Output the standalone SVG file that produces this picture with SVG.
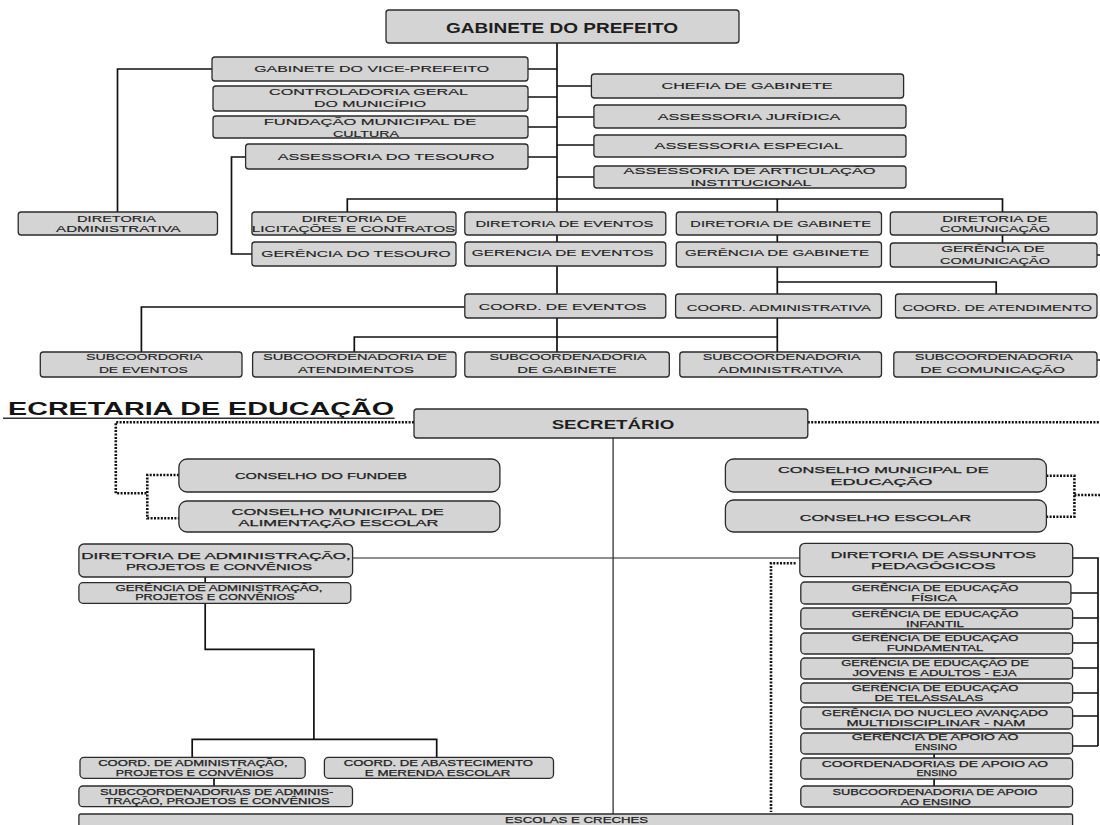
<svg xmlns="http://www.w3.org/2000/svg" width="1100" height="825" viewBox="0 0 1100 825">
<style>
.b{fill:#d4d4d4;stroke:#2b2b2b;stroke-width:1.3}
.t{font-family:"Liberation Sans",Arial,sans-serif;font-size:9.5px;fill:#1e1e1e;text-anchor:middle;stroke:#1e1e1e;stroke-width:0.15}
.s{font-family:"Liberation Sans",Arial,sans-serif;font-size:8.5px;fill:#1e1e1e;text-anchor:middle;stroke:#1e1e1e;stroke-width:0.25}
.h{font-family:"Liberation Sans",Arial,sans-serif;font-weight:bold;fill:#1e1e1e;text-anchor:middle}
.c{fill:none;stroke:#111;stroke-width:1.7}
.c2{fill:none;stroke:#222;stroke-width:1.2}
.d{fill:none;stroke:#111;stroke-width:2.6;stroke-dasharray:2 1.4}
</style>
<rect width="1100" height="825" fill="#fff"/>
<g id="connectors">
<path class="c" d="M557 43V318"/>
<path class="c" d="M528 69H557M528 97H557M528 127H557M528 157H557M557 86H591.4M557 117H593.9M557 145H593.9M557 177H593.9"/>
<path class="c" d="M212 69H117.5V212"/>
<path class="c" d="M245.6 157H231.5V254H252"/>
<path class="c" d="M347.3 212V199H1002.5V212M777.3 199V212M777.3 235V242M1002.5 235V243"/>
<path class="c" d="M557 318V352"/>
<path class="c" d="M464.8 307H141.4V352"/>
<path class="c" d="M354.3 352V337H777.3"/>
<path class="c" d="M777.3 267V294M777.3 282H996.2V294M777.3 318V352"/>
<path class="c" d="M1097 255H1100M1097 360H1100"/>
<path class="d" d="M414 422.3H115.8V493.3H147.3M178.9 475H147.3V518.3H178.9"/>
<path class="d" d="M807.8 422.3H1100M1046.4 475.7H1074.4V516.7H1046.4M1074.4 495H1100"/>
<path class="c2" d="M613.1 438V814"/>
<path class="c2" d="M352.6 558H799.8"/>
<path class="c" d="M1072.7 558H1098V746M1070.9 593H1098M1072.6 618H1098M1072.6 643H1098M1072.6 668H1098M1072.6 693H1098M1072.6 716H1098M1072.6 746H1098"/>
<path class="c" d="M934.1 754V758M934.1 779V786"/>
<path class="d" d="M795.6 563.3H771V812"/>
<path class="c" d="M205.2 577V583M205.2 603.3V649.3H313.9V739.3M192.2 757.3V739.3H436.7V757.3M214 778.3V786"/>
</g>
<g id="gabinete-prefeito"><rect class="b" x="386" y="10" width="353" height="33" rx="3"/><text class="h" x="562" y="33" font-size="14" textLength="232" lengthAdjust="spacingAndGlyphs">GABINETE DO PREFEITO</text></g>
<g id="vice-prefeito"><rect class="b" x="212" y="57" width="316" height="24" rx="3"/><text class="t" x="371.7" y="72.3" textLength="235" lengthAdjust="spacingAndGlyphs">GABINETE DO VICE-PREFEITO</text></g>
<g id="controladoria"><rect class="b" x="213" y="86" width="315" height="25" rx="3"/><text class="t" x="368.5" y="95.3" textLength="199" lengthAdjust="spacingAndGlyphs">CONTROLADORIA GERAL</text><text class="t" x="370" y="107.3" textLength="112" lengthAdjust="spacingAndGlyphs">DO MUNICÍPIO</text></g>
<g id="fundacao-cultura"><rect class="b" x="213" y="116" width="315" height="22" rx="3"/><text class="t" x="370" y="125.3" textLength="212.6" lengthAdjust="spacingAndGlyphs">FUNDAÇÃO MUNICIPAL DE</text><text class="t" x="366" y="137.3" textLength="66" lengthAdjust="spacingAndGlyphs">CULTURA</text></g>
<g id="assessoria-tesouro"><rect class="b" x="245.6" y="144" width="282.4" height="25" rx="3"/><text class="t" x="386" y="160.3" textLength="216.6" lengthAdjust="spacingAndGlyphs">ASSESSORIA DO TESOURO</text></g>
<g id="chefia-gabinete"><rect class="b" x="591.4" y="74" width="312.2" height="24" rx="3"/><text class="t" x="747" y="89.3" textLength="171" lengthAdjust="spacingAndGlyphs">CHEFIA DE GABINETE</text></g>
<g id="assessoria-juridica"><rect class="b" x="593.9" y="105" width="312.1" height="23" rx="3"/><text class="t" x="749" y="120.3" textLength="182.5" lengthAdjust="spacingAndGlyphs">ASSESSORIA JURÍDICA</text></g>
<g id="assessoria-especial"><rect class="b" x="593.9" y="135" width="312.1" height="22" rx="3"/><text class="t" x="748.8" y="149.3" textLength="188.5" lengthAdjust="spacingAndGlyphs">ASSESSORIA ESPECIAL</text></g>
<g id="assessoria-articulacao"><rect class="b" x="593.9" y="166" width="312.1" height="22" rx="3"/><text class="t" x="749.6" y="174.3" textLength="252" lengthAdjust="spacingAndGlyphs">ASSESSORIA DE ARTICULAÇÃO</text><text class="t" x="750.9" y="186.3" textLength="121" lengthAdjust="spacingAndGlyphs">INSTITUCIONAL</text></g>
<g id="diretoria-administrativa"><rect class="b" x="18.2" y="212" width="199.3" height="23" rx="3"/><text class="t" x="116.6" y="222.3" textLength="79" lengthAdjust="spacingAndGlyphs">DIRETORIA</text><text class="t" x="118.4" y="232.3" textLength="124.6" lengthAdjust="spacingAndGlyphs">ADMINISTRATIVA</text></g>
<g id="diretoria-licitacoes"><rect class="b" x="251.9" y="212" width="204.1" height="23" rx="3"/><text class="t" x="354.3" y="222.3" textLength="105" lengthAdjust="spacingAndGlyphs">DIRETORIA DE</text><text class="t" x="353.6" y="232.3" textLength="203.5" lengthAdjust="spacingAndGlyphs">LICITAÇÕES E CONTRATOS</text></g>
<g id="gerencia-tesouro"><rect class="b" x="251.9" y="242" width="204.1" height="24" rx="3"/><text class="t" x="356" y="257.3" textLength="189.5" lengthAdjust="spacingAndGlyphs">GERÊNCIA DO TESOURO</text></g>
<g id="diretoria-eventos"><rect class="b" x="464.8" y="212" width="201" height="23" rx="3"/><text class="t" x="564.4" y="227.3" textLength="178" lengthAdjust="spacingAndGlyphs">DIRETORIA DE EVENTOS</text></g>
<g id="gerencia-eventos"><rect class="b" x="464.8" y="242" width="201" height="24" rx="3"/><text class="t" x="562.7" y="256.3" textLength="181.7" lengthAdjust="spacingAndGlyphs">GERENCIA DE EVENTOS</text></g>
<g id="coord-eventos"><rect class="b" x="464.8" y="294" width="201" height="24" rx="3"/><text class="t" x="562.7" y="310.3" textLength="167.7" lengthAdjust="spacingAndGlyphs">COORD. DE EVENTOS</text></g>
<g id="diretoria-gabinete"><rect class="b" x="676.3" y="212" width="205.2" height="23" rx="3"/><text class="t" x="780.7" y="227.3" textLength="180.7" lengthAdjust="spacingAndGlyphs">DIRETORIA DE GABINETE</text></g>
<g id="gerencia-gabinete"><rect class="b" x="676.3" y="242" width="205.2" height="25" rx="3"/><text class="t" x="777" y="256.3" textLength="184" lengthAdjust="spacingAndGlyphs">GERÊNCIA DE GABINETE</text></g>
<g id="diretoria-comunicacao"><rect class="b" x="890.3" y="212" width="206.7" height="23" rx="3"/><text class="t" x="994.8" y="222.3" textLength="105.2" lengthAdjust="spacingAndGlyphs">DIRETORIA DE</text><text class="t" x="995" y="232.3" textLength="109.8" lengthAdjust="spacingAndGlyphs">COMUNICAÇÃO</text></g>
<g id="gerencia-comunicacao"><rect class="b" x="890.3" y="243" width="206.7" height="24" rx="3"/><text class="t" x="992.9" y="252.3" textLength="103.5" lengthAdjust="spacingAndGlyphs">GERÊNCIA DE</text><text class="t" x="995" y="264.3" textLength="109.8" lengthAdjust="spacingAndGlyphs">COMUNICAÇÃO</text></g>
<g id="coord-administrativa"><rect class="b" x="675.6" y="294" width="205.9" height="24" rx="3"/><text class="t" x="778.9" y="311.3" textLength="184.2" lengthAdjust="spacingAndGlyphs">COORD. ADMINISTRATIVA</text></g>
<g id="coord-atendimento"><rect class="b" x="895.5" y="294" width="201.5" height="24" rx="3"/><text class="t" x="997.3" y="311.3" textLength="189.4" lengthAdjust="spacingAndGlyphs">COORD. DE ATENDIMENTO</text></g>
<g id="subcoord-eventos"><rect class="b" x="40.3" y="352" width="201.7" height="25" rx="3"/><text class="t" x="144.4" y="360.3" textLength="116.8" lengthAdjust="spacingAndGlyphs">SUBCOORDORIA</text><text class="t" x="143.3" y="373.3" textLength="88.8" lengthAdjust="spacingAndGlyphs">DE EVENTOS</text></g>
<g id="subcoord-atendimentos"><rect class="b" x="252.6" y="352" width="203.4" height="25" rx="3"/><text class="t" x="355" y="360.3" textLength="184" lengthAdjust="spacingAndGlyphs">SUBCOORDENADORIA DE</text><text class="t" x="356" y="373.3" textLength="115.8" lengthAdjust="spacingAndGlyphs">ATENDIMENTOS</text></g>
<g id="subcoord-gabinete"><rect class="b" x="464.8" y="352" width="204.5" height="25" rx="3"/><text class="t" x="568" y="360.3" textLength="157" lengthAdjust="spacingAndGlyphs">SUBCOORDENADORIA</text><text class="t" x="567" y="373.3" textLength="99.3" lengthAdjust="spacingAndGlyphs">DE GABINETE</text></g>
<g id="subcoord-administrativa"><rect class="b" x="679.8" y="352" width="201.7" height="25" rx="3"/><text class="t" x="781.6" y="360.3" textLength="157.9" lengthAdjust="spacingAndGlyphs">SUBCOORDENADORIA</text><text class="t" x="780.6" y="373.3" textLength="124.5" lengthAdjust="spacingAndGlyphs">ADMINISTRATIVA</text></g>
<g id="subcoord-comunicacao"><rect class="b" x="893.8" y="352" width="203.2" height="25" rx="3"/><text class="t" x="993.8" y="360.3" textLength="157.9" lengthAdjust="spacingAndGlyphs">SUBCOORDENADORIA</text><text class="t" x="992.6" y="373.3" textLength="144.9" lengthAdjust="spacingAndGlyphs">DE COMUNICAÇÃO</text></g>
<g id="titulo"><text x="8" y="415" font-family="'Liberation Sans',Arial,sans-serif" font-weight="bold" font-size="18.5" fill="#141414" textLength="386" lengthAdjust="spacingAndGlyphs">ECRETARIA DE EDUCAÇÃO</text><path d="M3 418.3H394.6" stroke="#333" stroke-width="1.6"/></g>
<g id="secretario"><rect class="b" x="414" y="409" width="393.8" height="29" rx="3"/><text class="h" x="613" y="428.7" font-size="13" textLength="122.7" lengthAdjust="spacingAndGlyphs">SECRETÁRIO</text></g>
<g id="conselho-fundeb"><rect class="b" x="178.9" y="459" width="321" height="33" rx="8"/><text class="s" x="321" y="479" textLength="172" lengthAdjust="spacingAndGlyphs">CONSELHO DO FUNDEB</text></g>
<g id="conselho-alimentacao"><rect class="b" x="178.9" y="501" width="321" height="31" rx="8"/><text class="s" x="337.7" y="515.3" textLength="212.3" lengthAdjust="spacingAndGlyphs">CONSELHO MUNICIPAL DE</text><text class="s" x="338.5" y="526.3" textLength="200" lengthAdjust="spacingAndGlyphs">ALIMENTAÇÃO ESCOLAR</text></g>
<g id="conselho-educacao"><rect class="b" x="725.4" y="459" width="321" height="33" rx="8"/><text class="s" x="883.3" y="473" textLength="210.5" lengthAdjust="spacingAndGlyphs">CONSELHO MUNICIPAL DE</text><text class="s" x="881.5" y="484.7" textLength="101.8" lengthAdjust="spacingAndGlyphs">EDUCAÇÃO</text></g>
<g id="conselho-escolar"><rect class="b" x="725.4" y="500" width="321" height="32" rx="8"/><text class="s" x="885.4" y="520.7" textLength="171.2" lengthAdjust="spacingAndGlyphs">CONSELHO ESCOLAR</text></g>
<g id="diretoria-administracao"><rect class="b" x="78.9" y="544" width="273.7" height="33" rx="5"/><text class="s" x="216" y="558.7" textLength="269.4" lengthAdjust="spacingAndGlyphs">DIRETORIA DE ADMINISTRAÇÃO,</text><text class="s" x="219" y="569.7" textLength="186" lengthAdjust="spacingAndGlyphs">PROJETOS E CONVÊNIOS</text></g>
<g id="gerencia-administracao"><rect class="b" x="78.9" y="582.7" width="271.9" height="20.6" rx="4"/><text class="s" x="219" y="590.7" font-size="8" textLength="207" lengthAdjust="spacingAndGlyphs">GERÊNCIA DE ADMINISTRAÇÃO,</text><text class="s" x="215" y="599.9" font-size="8" textLength="159.7" lengthAdjust="spacingAndGlyphs">PROJETOS E CONVÊNIOS</text></g>
<g id="diretoria-pedagogicos"><rect class="b" x="799.8" y="543.3" width="272.9" height="33.4" rx="5"/><text class="s" x="933.3" y="558" textLength="205.3" lengthAdjust="spacingAndGlyphs">DIRETORIA DE ASSUNTOS</text><text class="s" x="933.3" y="568.7" textLength="124.5" lengthAdjust="spacingAndGlyphs">PEDAGÓGICOS</text></g>
<g id="gerencia-fisica"><rect class="b" x="800.8" y="582" width="270.1" height="22" rx="4"/><text class="s" x="935" y="590.9" font-size="8" textLength="166.7" lengthAdjust="spacingAndGlyphs">GERÊNCIA DE EDUCAÇÃO</text><text class="s" x="934.1" y="600.9" font-size="8" textLength="45.6" lengthAdjust="spacingAndGlyphs">FÍSICA</text></g>
<g id="gerencia-infantil"><rect class="b" x="800.8" y="608" width="271.8" height="21" rx="4"/><text class="s" x="935" y="616.9" font-size="8" textLength="166.7" lengthAdjust="spacingAndGlyphs">GERÊNCIA DE EDUCAÇÃO</text><text class="s" x="935" y="626.9" font-size="8" textLength="57.9" lengthAdjust="spacingAndGlyphs">INFANTIL</text></g>
<g id="gerencia-fundamental"><rect class="b" x="800.8" y="633" width="271.8" height="21" rx="4"/><text class="s" x="935" y="640.9" font-size="8" textLength="166.7" lengthAdjust="spacingAndGlyphs">GERÊNCIA DE EDUCAÇÃO</text><text class="s" x="935" y="650.9" font-size="8" textLength="96.5" lengthAdjust="spacingAndGlyphs">FUNDAMENTAL</text></g>
<g id="gerencia-eja"><rect class="b" x="800.8" y="658" width="271.8" height="21" rx="4"/><text class="s" x="935" y="665.9" font-size="8" textLength="187.7" lengthAdjust="spacingAndGlyphs">GERÊNCIA DE EDUCAÇÃO DE</text><text class="s" x="934.5" y="675.9" font-size="8" textLength="164.1" lengthAdjust="spacingAndGlyphs">JOVENS E ADULTOS - EJA</text></g>
<g id="gerencia-telessalas"><rect class="b" x="800.8" y="683" width="271.8" height="20" rx="4"/><text class="s" x="935" y="690.9" font-size="8" textLength="166.7" lengthAdjust="spacingAndGlyphs">GERÊNCIA DE EDUCAÇÃO</text><text class="s" x="928.8" y="700.9" font-size="8" textLength="108.8" lengthAdjust="spacingAndGlyphs">DE TELASSALAS</text></g>
<g id="gerencia-nam"><rect class="b" x="800.8" y="707" width="271.8" height="22" rx="4"/><text class="s" x="935" y="715.9" font-size="8" textLength="226.3" lengthAdjust="spacingAndGlyphs">GERÊNCIA DO NUCLEO AVANÇADO</text><text class="s" x="935.9" y="725.9" font-size="8" textLength="178.9" lengthAdjust="spacingAndGlyphs">MULTIDISCIPLINAR - NAM</text></g>
<g id="gerencia-apoio"><rect class="b" x="800.8" y="733" width="271.8" height="21" rx="4"/><text class="s" x="935" y="739.9" font-size="8" textLength="166.7" lengthAdjust="spacingAndGlyphs">GERÊNCIA DE APOIO AO</text><text class="s" x="935.9" y="749.9" font-size="8" textLength="42.1" lengthAdjust="spacingAndGlyphs">ENSINO</text></g>
<g id="coordenadorias-apoio"><rect class="b" x="800.8" y="758" width="271.8" height="21" rx="4"/><text class="s" x="935" y="766.9" font-size="8" textLength="226.3" lengthAdjust="spacingAndGlyphs">COORDENADORIAS DE APOIO AO</text><text class="s" x="936.7" y="775.9" font-size="8" textLength="40.4" lengthAdjust="spacingAndGlyphs">ENSINO</text></g>
<g id="subcoord-apoio"><rect class="b" x="800.8" y="786" width="271.8" height="21" rx="4"/><text class="s" x="935" y="794.9" font-size="8" textLength="205.1" lengthAdjust="spacingAndGlyphs">SUBCOORDENADORIA DE APOIO</text><text class="s" x="935.9" y="804.9" font-size="8" textLength="70.1" lengthAdjust="spacingAndGlyphs">AO ENSINO</text></g>
<g id="coord-administracao"><rect class="b" x="80" y="757.3" width="225.2" height="21" rx="4"/><text class="s" x="192.9" y="766.1" font-size="8" textLength="189.4" lengthAdjust="spacingAndGlyphs">COORD. DE ADMINISTRAÇÃO,</text><text class="s" x="194.7" y="776.1" font-size="8" textLength="157.9" lengthAdjust="spacingAndGlyphs">PROJETOS E CONVÊNIOS</text></g>
<g id="coord-abastecimento"><rect class="b" x="324.4" y="757.3" width="229.1" height="21" rx="4"/><text class="s" x="438.4" y="766.1" font-size="8" textLength="189.4" lengthAdjust="spacingAndGlyphs">COORD. DE ABASTECIMENTO</text><text class="s" x="437.6" y="776.1" font-size="8" textLength="145.5" lengthAdjust="spacingAndGlyphs">E MERENDA ESCOLAR</text></g>
<g id="subcoord-administracao"><rect class="b" x="78.9" y="786" width="273.6" height="20.7" rx="4"/><text class="s" x="216.6" y="794.6" font-size="8" textLength="233.2" lengthAdjust="spacingAndGlyphs">SUBCOORDENADORIAS DE ADMINIS-</text><text class="s" x="217.5" y="803.6" font-size="8" textLength="224.5" lengthAdjust="spacingAndGlyphs">TRAÇÃO, PROJETOS E CONVÊNIOS</text></g>
<g id="escolas-creches"><rect class="b" x="78.9" y="814" width="993.7" height="20" rx="2"/><text class="s" x="576.6" y="823" font-size="8" textLength="143.2" lengthAdjust="spacingAndGlyphs">ESCOLAS E CRECHES</text></g>
</svg>
